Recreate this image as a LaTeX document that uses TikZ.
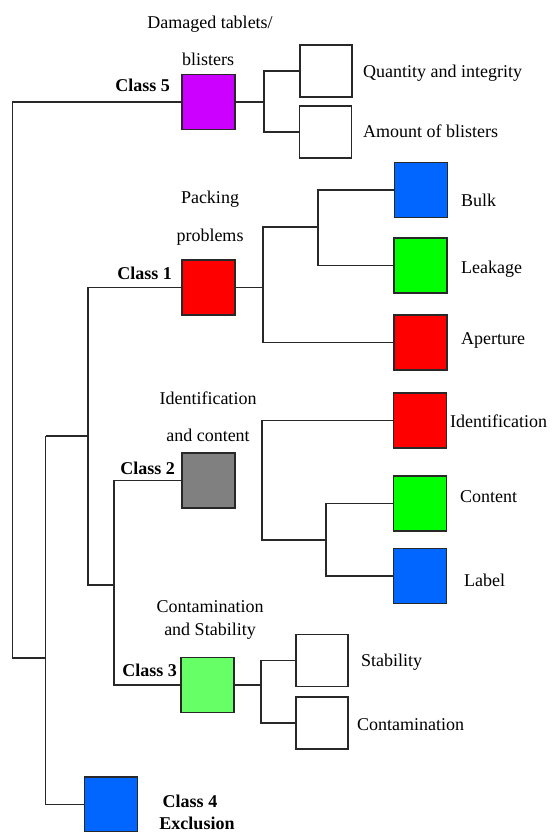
\documentclass[tikz,border=0pt]{standalone}
\usepackage{fontspec}
\setmainfont{Liberation Serif}
\usepackage{tikz}
\usetikzlibrary{positioning,calc}
\definecolor{classfive}{RGB}{204,0,255}
\definecolor{redbox}{RGB}{255,0,0}
\definecolor{bluebox}{RGB}{0,102,255}
\definecolor{greenbox}{RGB}{0,255,0}
\definecolor{greybox}{RGB}{128,128,128}
\definecolor{lightgreen}{RGB}{102,255,102}
\definecolor{wire}{RGB}{40,40,40}

\begin{document}
\begin{tikzpicture}[x=1pt,y=-1pt,
  bx/.style={rectangle,draw=wire,line width=1.9pt,minimum width=53pt,minimum height=55pt,inner sep=0pt},
  lf/.style={bx,fill=white,minimum width=52pt,minimum height=52pt},
  ln/.style={draw=wire,line width=1.8pt},
  txt/.style={font=\fontsize{18}{21}\selectfont,inner sep=0pt,text height=12pt,text depth=4pt},
  cls/.style={txt,font=\fontsize{18}{21}\selectfont\bfseries,anchor=east},
  lbl/.style={txt,anchor=west}
]
\useasboundingbox (0,0) rectangle (558,832);

% class boxes
\node[bx,fill=classfive] (c5) at (208.5,102) {};
\node[bx,fill=redbox] (c1) at (208.5,287.5) {};
\node[bx,fill=greybox] (c2) at (208.3,480.5) {};
\node[bx,fill=lightgreen] (c3) at (207.5,685) {};
\node[bx,fill=bluebox] (c4) at (111,804.5) {};

% sub boxes
\node[lf] (qty) at (326,71.2) {};
\node[lf] (amt) at (325.5,132.3) {};
\node[bx,fill=bluebox] (bulk) at (421,190) {};
\node[bx,fill=greenbox] (leak) at (420.5,265.5) {};
\node[bx,fill=redbox] (aper) at (420.5,342.5) {};
\node[bx,fill=redbox] (ident) at (420,420.5) {};
\node[bx,fill=greenbox] (content) at (420,503.5) {};
\node[bx,fill=bluebox] (label) at (420,576) {};
\node[lf] (stab) at (322,660.5) {};
\node[lf] (contam) at (322,723) {};

% titles
\node[txt] (t5a) at (210,25) {Damaged tablets/};
\node[txt] (t5b) at (208,62) {blisters};
\node[txt] (t1a) at (210,199) {Packing};
\node[txt] (t1b) at (210,237) {problems};
\node[txt] (t2a) at (208,400) {Identification};
\node[txt] (t2b) at (208,437) {and content};
\node[txt] (t3a) at (210,608) {Contamination};
\node[txt] (t3b) at (210,631) {and Stability};

\node[cls] (l5) at (170,88) {Class 5};
\node[cls] (l1) at (172,275) {Class 1};
\node[cls] (l2) at (175,470) {Class 2};
\node[cls] (l3) at (177,672) {Class 3};
\node[txt,font=\fontsize{18}{21}\selectfont\bfseries] (l4a) at (190,803) {Class 4};
\node[txt,font=\fontsize{18}{21}\selectfont\bfseries] (l4b) at (197,825) {Exclusion};

\node[lbl] (nqty) at (363,74) {Quantity and integrity};
\node[lbl] (namt) at (363,133) {Amount of blisters};
\node[lbl] (nbulk) at (461,202) {Bulk};
\node[lbl] (nleak) at (461,269) {Leakage};
\node[lbl] (naper) at (461,340) {Aperture};
\node[lbl] (nident) at (450,423) {Identification};
\node[lbl] (ncontent) at (460,498) {Content};
\node[lbl] (nlabel) at (464,582) {Label};
\node[lbl] (nstab) at (361,662) {Stability};
\node[lbl] (ncontam) at (357,726) {Contamination};

% left tree
\coordinate (r0) at (12.5,658);
\coordinate (r1) at (45.5,658);
\coordinate (r2) at (45.5,436);
\coordinate (r3) at (88,436);
\coordinate (k1) at (88,585);
\coordinate (k2) at (114,585);
\draw[ln] (c5.west) -| (r0) -- (r1);
\draw[ln] (r2) |- (c4.west);
\draw[ln] (r2) -- (r3);
\draw[ln] (c1.west) -| (k1) -- (k2);
\draw[ln] (c2.west) -| (k2) |- (c3.west);

% right trees
\coordinate (s5) at (264,102);
\draw[ln] (c5.east) -- (s5);
\draw[ln] (qty.west) -| (s5) |- (amt.west);

\coordinate (s1) at (262.6,287.5);
\coordinate (t1) at (318,227);
\draw[ln] (c1.east) -- (s1);
\draw[ln] (aper.west) -| (s1) |- (t1);
\draw[ln] (bulk.west) -| (t1) |- (leak.west);

\coordinate (s2) at (261.6,540);
\coordinate (t2) at (325.6,540);
\draw[ln] (ident.west) -| (s2) -- (t2);
\draw[ln] (content.west) -| (t2) |- (label.west);

\coordinate (s3) at (261,685);
\draw[ln] (c3.east) -- (s3);
\draw[ln] (stab.west) -| (s3) |- (contam.west);
\end{tikzpicture}
\end{document}
